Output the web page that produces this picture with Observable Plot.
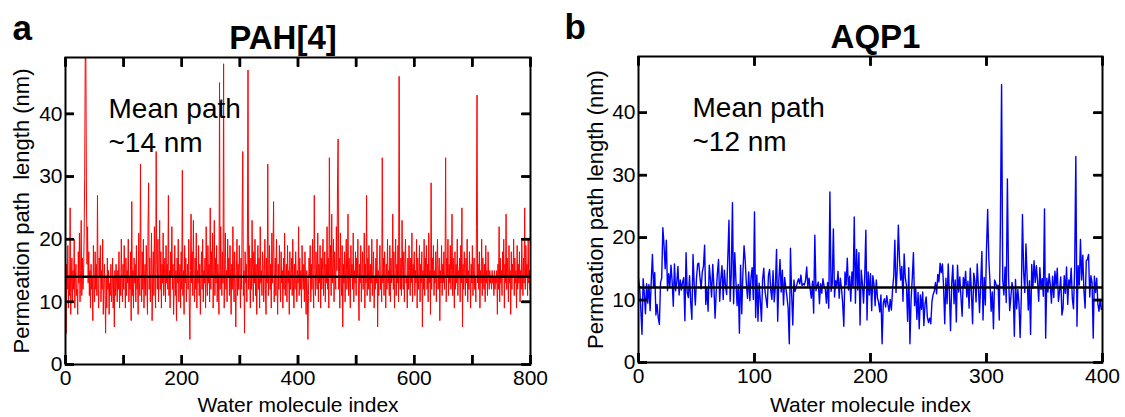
<!DOCTYPE html>
<html><head><meta charset="utf-8">
<script src="https://cdn.jsdelivr.net/npm/d3@7"></script>
<script src="https://cdn.jsdelivr.net/npm/@observablehq/plot@0.6"></script>
<style>
body{margin:0;background:#fff;}
#wrap{display:flex;width:1125px;height:417px;overflow:hidden;background:#fff;}
svg text{white-space:pre;}
</style></head><body><div id="wrap"></div>
<script>
// PAH[4] permeation path lengths (nm), one per water molecule (index 0..799)
const pahValues = [
18,5,16,12,19,9,14,11,25,8,
13,17,10,15,12,20,9,14,16,11,
12,8,18,13,21,10,15,23,11,17,
12,14,20,30,50,50,28,16,22,13,
18,11,15,9,16,12,14,7,19,13,
10,18,12,16,11,27,13,9,17,14,
19,10,15,12,20,8,13,16,11,5,
14,9,17,12,15,8,13,11,16,10,
12,17,9,14,6,15,11,16,13,10,
15,12,18,9,14,11,20,13,10,16,
12,19,14,9,17,11,15,13,20,10,
14,12,18,7,26,11,15,9,17,13,
16,10,19,12,14,8,21,13,11,32,
15,10,18,12,20,9,14,16,11,19,
13,8,22,29,12,17,10,15,21,7,
14,18,11,22,13,9,34,16,12,20,
10,15,23,12,18,9,16,13,21,11,
14,17,10,19,13,16,12,27,11,15,
9,18,14,22,12,16,8,13,19,11,
15,7,17,13,20,10,14,16,9,18,
12,31,11,15,8,19,13,17,10,14,
16,12,20,9,4,15,24,13,18,11,
23,14,10,17,12,21,9,15,13,19,
11,16,8,14,18,12,20,10,15,13,
17,9,22,14,11,19,13,16,10,25,
12,18,14,21,9,15,23,11,17,13,
19,10,16,14,8,45,12,22,15,11,
18,13,48,9,16,21,12,15,10,20,
14,17,11,19,13,8,16,12,22,14,
10,18,13,6,15,20,11,16,12,19,
14,9,17,12,25,34,11,15,5,18,
13,16,10,21,47,12,19,14,9,17,
12,23,15,10,18,13,20,11,16,8,
14,19,12,17,9,22,13,15,11,18,
16,10,14,20,12,8,17,13,32,11,
15,19,12,16,9,21,13,18,26,10,
14,17,11,20,13,8,16,12,19,14,
10,18,13,15,9,17,12,21,11,14,
16,10,19,13,15,8,18,12,14,17,
11,20,13,9,16,12,18,14,10,15,
13,22,11,17,12,15,9,19,14,12,
16,10,18,13,8,15,12,4,11,17,
14,19,10,16,12,20,13,9,27,15,
11,18,14,12,21,10,16,13,19,9,
17,12,15,20,11,14,18,10,16,13,
22,12,17,9,33,14,19,11,24,13,
16,20,10,18,14,12,22,15,29,36,
12,17,9,21,14,11,19,6,16,13,
18,10,15,20,12,14,24,11,17,13,
9,19,14,16,12,21,10,15,13,18,
11,17,14,20,12,7,16,13,19,10,
15,18,12,14,21,9,16,13,27,11,
17,12,19,14,10,16,13,20,11,15,
18,9,14,12,17,13,20,6,15,11,
16,19,12,14,10,33,13,17,11,18,
14,9,16,12,20,13,15,11,19,10,
17,13,14,24,12,18,9,15,20,11,
16,13,19,10,46,14,12,17,11,23,
15,12,18,10,16,20,13,14,9,17,
12,19,15,11,17,13,21,10,16,14,
18,11,15,13,20,9,17,12,14,19,
10,16,13,18,6,15,12,20,11,17,
14,19,12,16,10,21,13,15,8,29,
12,17,14,19,11,15,13,18,10,16,
20,12,14,17,7,15,13,19,11,16,
13,18,12,15,33,10,17,14,20,11,
16,13,19,12,15,24,11,17,14,9,
18,12,16,13,20,11,15,14,17,10,
19,13,25,6,16,12,18,14,11,17,
13,20,10,15,12,18,14,9,16,13,
19,11,15,17,12,14,10,22,43,13,
16,12,18,9,15,13,20,11,17,14,
12,16,10,19,13,15,11,18,14,12,
15,13,14,12,15,13,14,11,15,12,
14,13,15,8,16,12,22,10,17,13,
15,11,18,14,20,9,16,13,24,12,
17,14,10,19,13,15,8,18,12,16,
14,20,11,17,13,15,9,19,12,16,
13,18,10,15,12,20,14,11,17,13,
25,12,19,14,16,11,20,13,15,12
];
// AQP1 permeation path lengths (nm), index 0..399
const aqpValues = [
13.5,12,8.5,4.5,13.4,11,7.8,12.6,9.5,12.5,
8.3,13,17.3,12,14.4,7.6,9.3,7.2,6.1,12.8,
13.5,21.6,18.8,15,19.6,11.5,14.2,12,15.6,13,
9,15.8,11.5,12.8,15.4,10.8,13.2,11.6,12.9,13.6,
6.7,17.6,11.2,10.4,13.9,9.6,6.9,17.3,12.5,9.2,
13.5,15.8,15.9,13.6,11.8,14.5,15.4,18.8,9.3,12,
8.2,15.6,13.3,10.5,15.7,12.2,7.1,11.3,14.3,16.5,
9.8,13.4,15.5,10.1,14.8,12.3,10.9,16.8,22.8,9.8,
14.2,25.6,9.4,17.6,13,9.1,12.5,4.7,15.6,7.8,
14.3,18.7,16.3,12.5,10.3,14.5,9.9,13.6,15.2,10.1,
24.1,7.2,14,6.6,12.7,9.9,6.6,13.3,15.1,11.5,
10.2,8.8,13.9,14.9,11.6,10.1,14.7,9.7,12.2,18.1,
6.6,13.2,16.5,11.3,14.8,9.2,13.6,12,10.5,8.7,
3,18.3,11.1,6,13.2,11.4,12.1,12.8,13.4,12.6,
14,12.3,12.6,12.4,13.2,15.3,12.1,13.5,11.8,10.3,
13,7.9,20.4,11.5,12.3,12.9,9.4,12.6,11.1,13.4,
12.2,11.8,9.5,12.8,8.7,27.3,11.4,12.5,21.4,10.5,
13.1,12.2,14.6,10.3,13.5,11.9,9.5,5.8,14.5,12.4,
16.7,11.6,13.8,9.8,14.5,12,23.3,9.5,18.1,11.6,
17.6,6,14.8,12.6,9.5,13.7,21.2,6.8,14.5,10.8,
14.2,8.3,13.9,12.5,9.1,13.2,10.4,9.6,8.1,10.8,
3,9.5,10.2,8.9,10.7,9.3,8.2,10.1,8.4,11.6,
13.8,19.6,11.2,14.8,22,16.5,13.2,15.4,9.8,17.4,
13.6,12.3,6.6,15.2,3,10.1,13.5,17.6,9.1,11.8,
6.9,11.2,5.4,10.8,8.5,11.3,5.9,9.4,10.5,7.3,
6.4,7.1,6.2,9.8,10.9,11.4,12.8,11,14.1,12.9,
15.9,14.4,15.8,12.1,6.2,13.5,9.4,15.8,11.2,5.1,
12.6,15.6,9.4,13.2,6.5,15.6,11.3,13.7,10.4,7.4,
13.6,12.2,14.6,10.5,13,8.7,15.1,11.2,6.2,14.3,
13.1,9.7,15.8,12.2,8,12.7,17.8,6.8,13.6,9.2,
18.1,24.5,16.6,12.9,8.2,11.3,5.4,13.2,12.7,11.8,
12.4,6.8,22.5,44.5,13.2,10.8,15.3,9.6,29.4,13.8,
8.3,10.5,12.8,11.6,4.2,13.3,8.6,11.7,9.5,4,
10.5,23.7,14.6,11.2,19,13.9,8.4,13.1,4.5,15.7,
11.9,16.3,12.8,15.5,13.1,9.8,15.2,11.7,13.4,10.6,
24.6,3.9,13.5,11.3,14.2,12.4,9.5,13.8,10.4,14.6,
12.2,15.1,9.8,11.4,13.7,7.6,8.7,13.9,11.1,15.3,
9.3,13.2,12.2,15.1,10.2,8.6,14.9,33,5.8,15.5,
12.4,19.7,13.2,17.2,11.5,8.7,16.3,16.5,17.3,10.5,
13.9,12.8,3.9,13.8,11.2,13.5,9.4,8.2,10.1,8.5
];
const pahMean = 14;
const aqpMean = 12;
const pahXTicks = [0,100,200,300,400,500,600,700,800];
const pahXLabels = [0,200,400,600,800];
const aqpXTicks = [0,100,200,300,400];
const aqpXLabels = [0,100,200,300,400];
const yTicks = [0,10,20,30,40];
const yTickLabels = [0,10,20,30,40];
const yMax = 49;
const pahTitle = "PAH[4]";
const aqpTitle = "AQP1";
const pahLetter = "a";
const aqpLetter = "b";
const pahMeanText = "Mean path\n~14 nm";
const aqpMeanText = "Mean path\n~12 nm";
const pahYLabel = "Permeation path  length (nm)";
const aqpYLabel = "Permeation path length (nm)";
const xLabelText = "Water molecule index";

const FONT = "'Liberation Sans', Arial, Helvetica, sans-serif";
const TICK = 9;
const H = 417;

function panel(o) {
  const fh = H - o.mt - o.mb;
  const fw = o.width - o.ml - o.mr;
  const ts = {stroke: "#000", strokeWidth: 2.5, strokeOpacity: 1};
  return Plot.plot({
    width: o.width, height: H,
    marginLeft: o.ml, marginRight: o.mr, marginTop: o.mt, marginBottom: o.mb,
    x: {domain: [0, o.xMax], axis: null},
    y: {domain: [0, yMax], axis: null},
    style: {fontFamily: FONT, fontSize: "21px", color: "black", background: "white"},
    marks: [
      Plot.lineY(o.values, {x: (d, i) => i, y: d => d, stroke: o.color, strokeWidth: o.lw, clip: true}),
      Plot.ruleY([o.mean], {y: d => d, stroke: "black", strokeWidth: 2.4}),
      Plot.frame({stroke: "black", strokeWidth: 2}),
      // inward ticks on all four sides, drawn as tick marks inset from the frame edges
      Plot.tickX(o.xTicks, {x: d => d, insetTop: fh - TICK, ...ts}),
      Plot.tickX(o.xTicks, {x: d => d, insetBottom: fh - TICK, ...ts}),
      Plot.tickY(yTicks, {y: d => d, insetRight: fw - TICK, ...ts}),
      Plot.tickY(yTicks, {y: d => d, insetLeft: fw - TICK, ...ts}),
      // same ticks through the axis marks (outward ticks moved back inside)
      Plot.axisX({anchor: "bottom", ticks: o.xTicks, tickSize: TICK, dy: -TICK, ...ts, tickFormat: () => "", label: null}),
      Plot.axisX({anchor: "top", ticks: o.xTicks, tickSize: TICK, dy: TICK, ...ts, tickFormat: () => "", label: null}),
      Plot.axisY({anchor: "left", ticks: yTicks, tickSize: TICK, dx: TICK, ...ts, tickFormat: () => "", label: null}),
      Plot.axisY({anchor: "right", ticks: yTicks, tickSize: TICK, dx: -TICK, ...ts, tickFormat: () => "", label: null}),
      // tick labels
      Plot.axisX({anchor: "bottom", ticks: o.xLabels, tickSize: 0, tickPadding: 6, fontSize: 21, label: null}),
      Plot.axisY({anchor: "left", ticks: yTickLabels, tickSize: 0, tickPadding: 3, fontSize: 21, label: null}),
      // axis titles
      Plot.text([xLabelText], {frameAnchor: "bottom", lineAnchor: "bottom", dy: o.xlDy, fontSize: 21}),
      Plot.text([o.ylabel], {frameAnchor: "left", lineAnchor: "bottom", textAnchor: "middle", rotate: -90, dx: o.ylDx, fontSize: 22}),
      // panel title and letter
      Plot.text([o.title], {frameAnchor: "top", lineAnchor: "bottom", dy: -9, dx: o.titleDx, fontSize: 33, fontWeight: "bold"}),
      Plot.text([o.letter], {frameAnchor: "top-left", textAnchor: "start", lineAnchor: "bottom", dx: o.letterDx, dy: -18, fontSize: 35, fontWeight: "bold"}),
      // annotation
      Plot.text([o.meanText], {frameAnchor: "top-left", textAnchor: "start", lineAnchor: "top", dx: o.mtDx, dy: 36, fontSize: 28, lineHeight: 1.22})
    ]
  });
}

const wrap = document.getElementById("wrap");
wrap.appendChild(panel({
  values: pahValues, mean: pahMean, color: "#ff0000", lw: 1,
  width: 560, ml: 65, mr: 30, mt: 57, mb: 53,
  xMax: 800, xTicks: pahXTicks, xLabels: pahXLabels,
  title: pahTitle, letter: pahLetter, meanText: pahMeanText, ylabel: pahYLabel,
  xlDy: 47, ylDx: -37, titleDx: -15, letterDx: -53, mtDx: 43
}));
wrap.appendChild(panel({
  values: aqpValues, mean: aqpMean, color: "#0000ff", lw: 1.4,
  width: 565, ml: 78, mr: 23, mt: 56, mb: 55,
  xMax: 400, xTicks: aqpXTicks, xLabels: aqpXLabels,
  title: aqpTitle, letter: aqpLetter, meanText: aqpMeanText, ylabel: aqpYLabel,
  xlDy: 49, ylDx: -36, titleDx: 5, letterDx: -74, mtDx: 54
}));
</script></body></html>
